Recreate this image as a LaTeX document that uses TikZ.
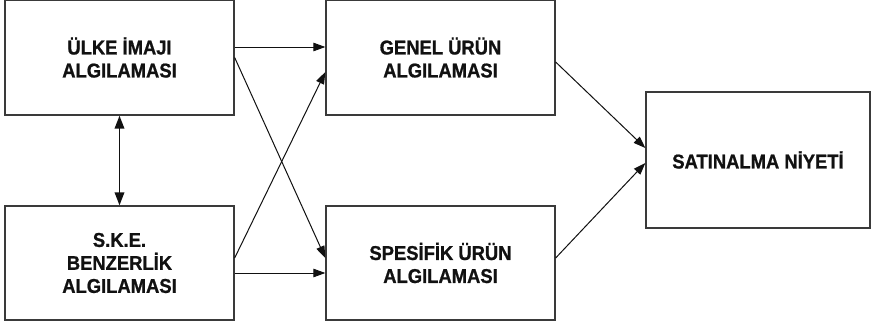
\documentclass[tikz,border=0pt]{standalone}
\usepackage{fontspec}
\setmainfont{Liberation Sans}
\newfontfamily\boxfont{Liberation Sans}[FakeStretch=0.92, BoldFeatures={FakeBold=0.9}]
\usetikzlibrary{arrows.meta,positioning}
\definecolor{bxInk}{HTML}{111111}
\definecolor{bxEdge}{HTML}{3A3A3A}
\tikzset{
  blk/.style={draw=bxEdge, fill=white, line width=1.3pt, minimum width=229pt, minimum height=115pt, inner sep=2pt, align=center, font=\boxfont\fontsize{20}{23}\selectfont\bfseries, text=bxInk},
  arr/.style={-{Triangle[length=12pt,width=8.5pt]}, line width=1pt, draw=bxInk},
  darr/.style={{Triangle[length=13pt,width=9.5pt]}-{Triangle[length=13pt,width=9.5pt]}, line width=1.8pt, draw=bxInk},
}
\begin{document}
\begin{tikzpicture}[x=1pt, y=-1pt]
    \useasboundingbox[fill=white] (0,0) rectangle (871,327);
    \node[blk] (ulke) at (119.5,57.5) {ÜLKE İMAJI\\ALGILAMASI};
    \node[blk, minimum height=114pt] (ske) at (119.5,263) {S.K.E.\\BENZERLİK\\ALGILAMASI};
    \node[blk] (genel) at (440.5,57.5) {GENEL ÜRÜN\\ALGILAMASI};
    \node[blk, minimum height=114pt] (spes) at (440.5,263) {SPESİFİK ÜRÜN\\ALGILAMASI};
    \node[blk, minimum width=224pt, minimum height=136pt] (niyet) at (758,160) {SATINALMA NİYETİ};
    % connectors
    \draw[darr] (ulke.south) -- (ske.north);
    \draw[arr] ([yshift=10.5pt]ulke.east) -- ([yshift=10.5pt]genel.west);
    \draw[arr] (ulke.east) -- ([yshift=5pt]spes.west);
    \draw[arr] ([yshift=5pt]ske.east) -- ([yshift=-14.5pt]genel.west);
    \draw[arr] ([yshift=-10pt]ske.east) -- ([yshift=-10pt]spes.west);
    \draw[arr] ([yshift=-4.5pt]genel.east) -- ([yshift=12pt]niyet.west);
    \draw[arr] ([yshift=5pt]spes.east) -- ([yshift=-3pt]niyet.west);
\end{tikzpicture}
\end{document}
